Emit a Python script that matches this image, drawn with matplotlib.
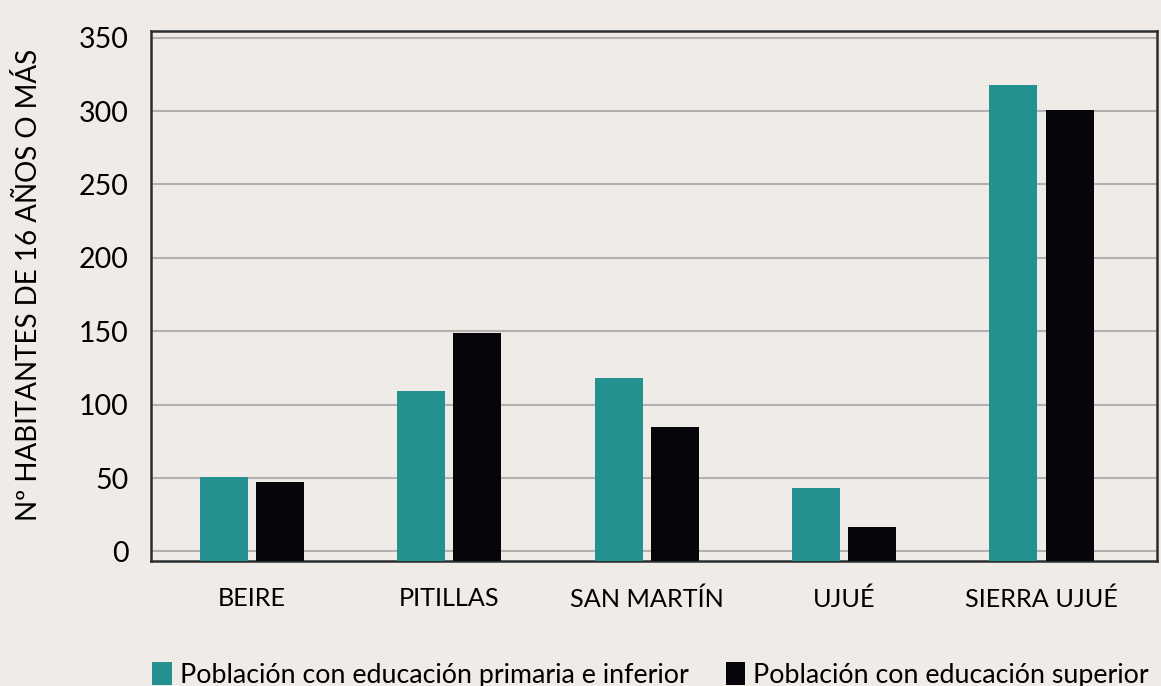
import matplotlib.pyplot as plt
import numpy as np
from matplotlib.patches import Patch

# values
municipios = ["BEIRE", "PITILLAS", "SAN MARTÍN", "UJUÉ", "SIERRA UJUÉ"]
primaria = [51, 109, 118, 43, 318]
superior = [47, 149, 85, 17, 301]
yticks = [0, 50, 100, 150, 200, 250, 300, 350]
series_labels = ["Población con educación primaria e inferior",
                 "Población con educación superior"]

teal = "#23918f"
black = "#06050a"
bg = "#efebe7"

plt.rcParams["font.family"] = ["Lato", "DejaVu Sans"]

fig = plt.figure(figsize=(11.61, 6.86), dpi=100, facecolor=bg)
ax = fig.add_axes([0.130, 0.1822, 0.8666, 0.7726], facecolor=bg)

x = np.arange(len(municipios))
w = 0.243
off = 0.142
ymin, ymax = -6.5, 354.5
ax.bar(x - off, np.array(primaria) - ymin, w, bottom=ymin, color=teal, zorder=3)
ax.bar(x + off, np.array(superior) - ymin, w, bottom=ymin, color=black, zorder=3)

ax.set_ylim(ymin, ymax)
ax.set_xlim(-0.51, 4.585)
ax.set_yticks(yticks)
ax.set_xticks(x)
ax.set_xticklabels(municipios, fontsize=18.2)
ax.tick_params(axis="y", labelsize=20.5, length=0, pad=16)
ax.tick_params(axis="x", length=0, pad=19)
ax.yaxis.grid(True, color="#b3b0ae", linewidth=1.5, zorder=0)
for s in ax.spines.values():
    s.set_color("#2b2e2e")
    s.set_linewidth(1.8)

ax.set_ylabel("Nº HABITANTES DE 16 AÑOS O MÁS", fontsize=20)
ax.yaxis.set_label_coords(-0.108, 0.52)

handles = [Patch(facecolor=teal), Patch(facecolor=black)]
fig.legend(handles, series_labels, loc="upper left", ncol=2,
           bbox_to_anchor=(0.122, 0.05), frameon=False, fontsize=19.3,
           handlelength=0.72, handleheight=0.9, handletextpad=0.3,
           columnspacing=1.4, borderaxespad=0)

fig.savefig("out.png", dpi=100, facecolor=bg)
